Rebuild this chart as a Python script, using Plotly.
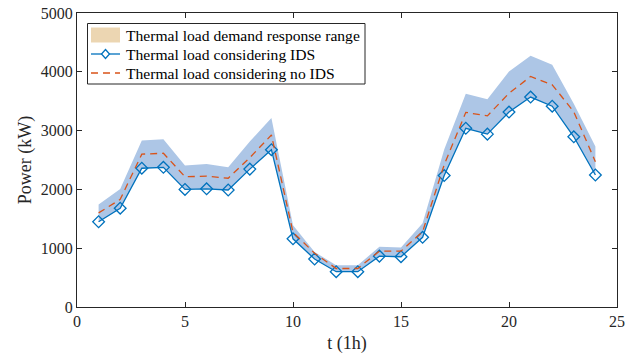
import plotly.graph_objects as go

t = list(range(1, 25))
ids_load = [1450, 1680, 2360, 2375, 2000, 2010, 1990, 2345, 2675, 1160, 815, 600, 600, 865, 855, 1185,
            2235, 3040, 2940, 3315, 3570, 3415, 2895, 2245]
no_ids_load = [1600, 1830, 2600, 2615, 2215, 2225, 2190, 2540, 2925, 1270, 915, 655, 655, 950, 950, 1280,
               2420, 3310, 3250, 3635, 3920, 3780, 3320, 2470]
range_upper = [1745, 2005, 2830, 2855, 2405, 2430, 2375, 2815, 3215, 1390, 935, 710, 710, 1025, 1010, 1425,
               2680, 3625, 3535, 4005, 4275, 4120, 3455, 2730]
range_lower = ids_load

x_ticks = [0, 5, 10, 15, 20, 25]
y_ticks = [0, 1000, 2000, 3000, 4000, 5000]
legend_labels = ["Thermal load demand response range",
                 "Thermal load considering IDS",
                 "Thermal load considering no IDS"]

FONT = "Liberation Serif"
BLUE = "#0072BD"
ORANGE = "#D95319"
BAND = "#adc6e6"
TAN = "#ecd6b2"
AX = "#262626"

W, H = 628, 357
ML, MR, MT, MB = 77, 11, 13, 50
PW, PH = W - ML - MR, H - MT - MB


def px(X):
    return (X - ML) / PW


def py(Y):
    return (H - MB - Y) / PH


fig = go.Figure()
fig.add_trace(go.Scatter(x=t + t[::-1], y=range_upper + range_lower[::-1], fill="toself",
                         fillcolor=BAND, line=dict(width=0), mode="lines",
                         hoverinfo="skip", showlegend=False, name=legend_labels[0]))
fig.add_trace(go.Scatter(x=t, y=ids_load, mode="lines+markers",
                         line=dict(color=BLUE, width=1.3),
                         marker=dict(symbol="diamond-open", size=9, color=BLUE, line=dict(width=1.3)),
                         showlegend=False, name=legend_labels[1]))
fig.add_trace(go.Scatter(x=t, y=no_ids_load, mode="lines",
                         line=dict(color=ORANGE, width=1.3, dash="7px,5px"),
                         showlegend=False, name=legend_labels[2]))

axis_common = dict(showline=True, linecolor=AX, linewidth=1, mirror="ticks",
                   ticks="inside", ticklen=5, tickcolor=AX, showgrid=False, zeroline=False,
                   automargin=False,
                   tickfont=dict(family=FONT, size=16, color=AX))
fig.update_xaxes(range=[0, 25], tickvals=x_ticks, ticktext=[str(v) for v in x_ticks],
                 title=dict(text="t (1h)", font=dict(family=FONT, size=18, color=AX), standoff=7),
                 **axis_common)
fig.update_yaxes(range=[0, 5000], tickvals=y_ticks, ticktext=[str(v) for v in y_ticks],
                 title=dict(text="Power (kW)", font=dict(family=FONT, size=18, color=AX), standoff=4),
                 **axis_common)

# manual legend (reference shows a tan patch for the range)
shapes = [
    dict(type="rect", xref="paper", yref="paper", x0=px(87.5), x1=px(365), y0=py(84), y1=py(23.5),
         line=dict(color=AX, width=1), fillcolor="white", layer="above"),
    dict(type="rect", xref="paper", yref="paper", x0=px(91), x1=px(120), y0=py(42.5), y1=py(27.5),
         line=dict(width=0), fillcolor=TAN, layer="above"),
    dict(type="line", xref="paper", yref="paper", x0=px(91), x1=px(120), y0=py(54), y1=py(54),
         line=dict(color=BLUE, width=1.3), layer="above"),
    dict(type="path", xref="paper", yref="paper",
         path="M {a},{b} L {c},{d} L {a},{e} L {f},{d} Z".format(
             a=px(105.5), b=py(49.5), c=px(109.5), d=py(54), e=py(58.5), f=px(101.5)),
         line=dict(color=BLUE, width=1.3), fillcolor="white", layer="above"),
    dict(type="line", xref="paper", yref="paper", x0=px(91), x1=px(120), y0=py(73), y1=py(73),
         line=dict(color=ORANGE, width=1.3, dash="7px,5px"), layer="above"),
]
annotations = []
for lab, yy in zip(legend_labels, [35.5, 54.5, 73.5]):
    annotations.append(dict(text=lab, xref="paper", yref="paper", x=px(124), y=py(yy),
                            xanchor="left", yanchor="middle", showarrow=False,
                            font=dict(family=FONT, size=15.6, color="#000000")))

fig.update_layout(
    width=W, height=H,
    margin=dict(l=ML, r=MR, t=MT, b=MB),
    paper_bgcolor="white", plot_bgcolor="white",
    showlegend=False,
    shapes=shapes, annotations=annotations,
)

fig.write_html("out.html")
